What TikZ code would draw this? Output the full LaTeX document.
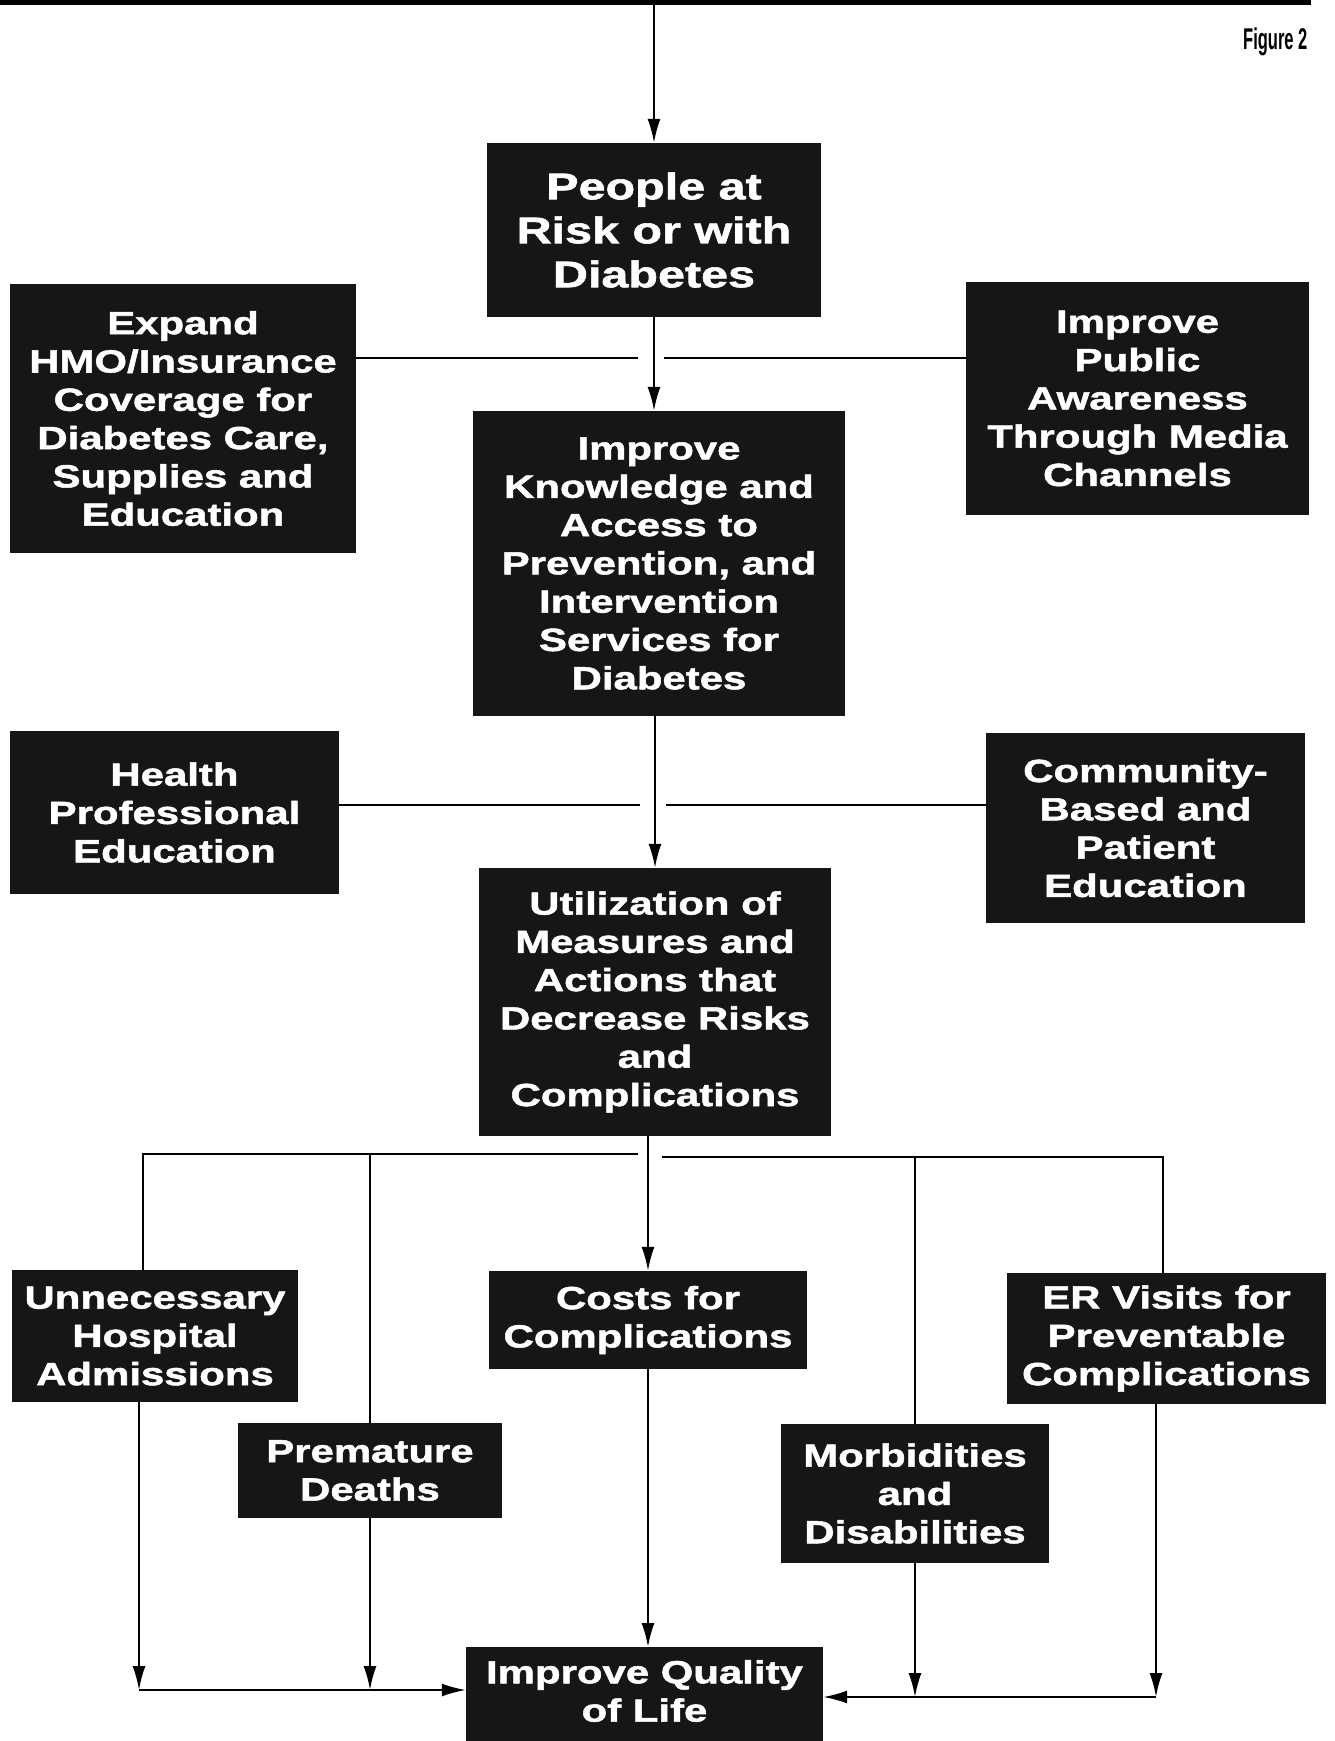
\documentclass[tikz,border=0pt]{standalone}
\usepackage{fontspec}
\usetikzlibrary{arrows.meta}
\newfontfamily\boxfont[FakeStretch=1.31,FakeBold=1.6]{Liberation Sans}
\newfontfamily\figfont[FakeStretch=0.55]{Liberation Sans}
\definecolor{boxgray}{RGB}{22,22,22}
\tikzset{
  box/.style={fill=boxgray, text=white, align=center, inner sep=0pt,
    font=\boxfont\bfseries\fontsize{32}{38.3}\selectfont},
  bigbox/.style={box, font=\boxfont\bfseries\fontsize{37}{44}\selectfont},
  ln/.style={line width=2pt, draw=black},
  arr/.style={ln, -{Latex[length=24pt,width=13pt]}},
}
\begin{document}
\begin{tikzpicture}[x=1pt,y=-1pt]
\useasboundingbox (0,0) rectangle (1334,1741);
\fill[white] (0,0) rectangle (1334,1741);
\clip (0,0) rectangle (1334,1741);

% strip of the box above (cut off)
\node[fill=black, minimum width=1311pt, minimum height=5pt, inner sep=0pt] (prev) at (655.5,2.5) {};

\node[font=\figfont\bfseries\fontsize{30}{34}\selectfont, anchor=base west, inner sep=0pt] (fig) at (1243,49) {Figure 2};

% boxes
\node[bigbox, minimum width=334pt, minimum height=174pt] (people) at (654,230) {People at\\Risk or with\\Diabetes};
\node[box, minimum width=346pt, minimum height=269pt] (expand) at (183,418.5) {Expand\\HMO/Insurance\\Coverage for\\Diabetes Care,\\Supplies and\\Education};
\node[box, minimum width=343pt, minimum height=233pt] (public) at (1137.5,398.5) {Improve\\Public\\Awareness\\Through Media\\Channels};
\node[box, minimum width=372pt, minimum height=305pt] (know) at (659,563.5) {Improve\\Knowledge and\\Access to\\Prevention, and\\Intervention\\Services for\\Diabetes};
\node[box, minimum width=329pt, minimum height=163pt] (health) at (174.5,812.5) {Health\\Professional\\Education};
\node[box, minimum width=319pt, minimum height=190pt] (comm) at (1145.5,828) {Community-\\Based and\\Patient\\Education};
\node[box, minimum width=352pt, minimum height=268pt] (util) at (655,1002) {Utilization of\\Measures and\\Actions that\\Decrease Risks\\and\\Complications};
\node[box, minimum width=286pt, minimum height=132pt] (unn) at (155,1336) {Unnecessary\\Hospital\\Admissions};
\node[box, minimum width=318pt, minimum height=98pt] (costs) at (648,1320) {Costs for\\Complications};
\node[box, minimum width=319pt, minimum height=131pt] (er) at (1166.5,1338.5) {ER Visits for\\Preventable\\Complications};
\node[box, minimum width=264pt, minimum height=95pt] (prem) at (370,1470.5) {Premature\\Deaths};
\node[box, minimum width=268pt, minimum height=139pt] (morb) at (915,1493.5) {Morbidities\\and\\Disabilities};
\node[box, minimum width=357pt, minimum height=140pt, anchor=north] (qual) at (644.5,1647) {};
\node[box, fill=none] (qualtext) at (644.5,1691) {Improve Quality\\of Life};

% helper coordinates
\coordinate (g1l) at (638,358);
\coordinate (g1r) at (664,358);
\coordinate (g2l) at (640,805);
\coordinate (g2r) at (666,805);
\coordinate (b1) at (638,1154);
\coordinate (v1) at (143,1154);
\coordinate (b2) at (662,1157);
\coordinate (v4) at (1163,1157);
\coordinate (h1) at (139,1690);
\coordinate (h2) at (1156,1697);

% main spine
\draw[arr] (prev.south -| people.north) -- (people.north);
\draw[arr] (people.south) -- (people.south |- know.north);
\draw[arr] (know.south -| util.north) -- (util.north);
\draw[arr] (util.south -| costs.north) -- (costs.north);

% side inputs
\draw[ln] (expand.east |- g1l) -- (g1l);
\draw[ln] (g1r) -- (public.west |- g1r);
\draw[ln] (health.east |- g2l) -- (g2l);
\draw[ln] (g2r) -- (comm.west |- g2r);

% branches
\draw[ln] (b1) -- (v1) -- (v1 |- unn.north);
\draw[ln] (prem.north |- b1) -- (prem.north);
\draw[ln] (b2) -- (v4) -- (v4 |- er.north);
\draw[ln] (morb.north |- b2) -- (morb.north);

% to quality of life
\draw[arr] (unn.south -| h1) -- (h1);
\draw[arr] (prem.south) -- (prem.south |- h1);
\draw[arr] (h1) -- (qual.west |- h1);
\draw[arr] (costs.south) -- (costs.south |- qual.north);
\draw[arr] (morb.south) -- (morb.south |- h2);
\draw[arr] (er.south -| h2) -- (h2);
\draw[arr] (h2) -- (qual.east |- h2);
\end{tikzpicture}
\end{document}
